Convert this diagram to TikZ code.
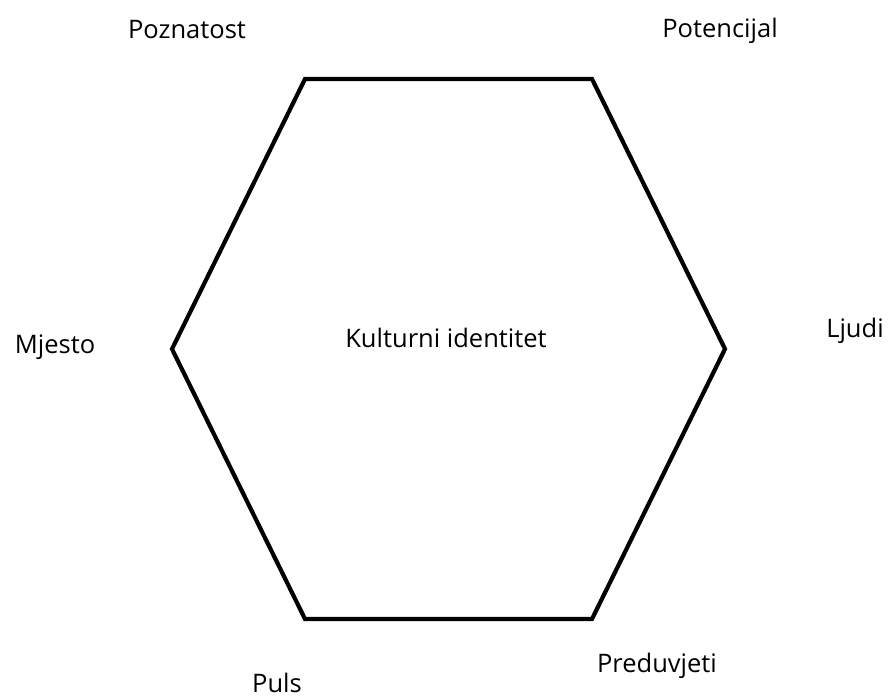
\documentclass[tikz,border=0pt]{standalone}
\usepackage{fontspec}
\setmainfont{Open Sans}
\begin{document}
\begin{tikzpicture}[x=1pt,y=-1pt,
  lbl/.style={font=\fontsize{25.5}{28}\selectfont, inner sep=0pt, anchor=base},
  hexline/.style={line width=4.2pt, line join=miter}]
\useasboundingbox (0,0) rectangle (889,697);
\coordinate (tl) at (305,79);
\coordinate (tr) at (592,79);
\coordinate (r) at (725,349);
\coordinate (br) at (592,619);
\coordinate (bl) at (305,619);
\coordinate (l) at (172,349);
\draw[hexline] (tl) -- (tr) -- (r) -- (br) -- (bl) -- (l) -- cycle;
\node[lbl] (center) at (446,347) {Kulturni identitet};
\node[lbl] (poznatost) at (187,38) {Poznatost};
\node[lbl] (potencijal) at (720,37) {Potencijal};
\node[lbl] (mjesto) at (55,353) {Mjesto};
\node[lbl] (ljudi) at (855,337) {Ljudi};
\node[lbl] (puls) at (277,692) {Puls};
\node[lbl] (preduvjeti) at (657,672) {Preduvjeti};
\end{tikzpicture}
\end{document}
